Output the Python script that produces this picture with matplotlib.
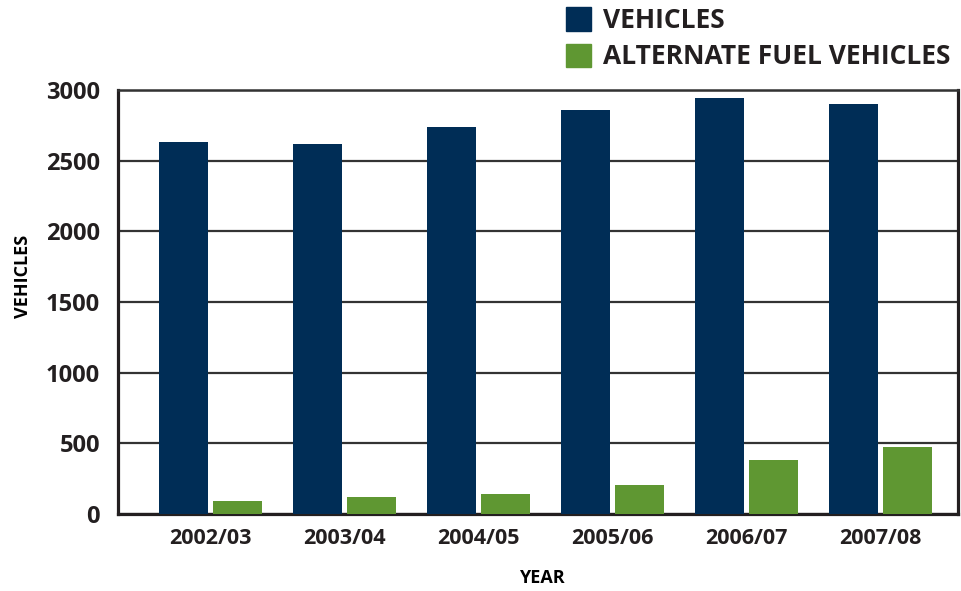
import numpy as np
import matplotlib.pyplot as plt
from matplotlib.patches import Patch

# Fleet size by financial year
years = ["2002/03", "2003/04", "2004/05", "2005/06", "2006/07", "2007/08"]
vehicles = [2630, 2617, 2737, 2857, 2942, 2900]
alt_fuel = [93, 120, 142, 205, 382, 474]

NAVY = "#002d56"
GREEN = "#5f9732"
INK = "#231f20"

plt.rcParams["font.family"] = ["Open Sans", "DejaVu Sans"]

fig = plt.figure(figsize=(9.61, 5.91), dpi=100)
ax = fig.add_axes([118 / 961, 1 - 514 / 591, 840 / 961, 424 / 591])

x = np.arange(len(years))
w = 0.366
ax.bar(x - 0.2015, vehicles, w, color=NAVY, zorder=3, label="VEHICLES")
ax.bar(x + 0.2015, alt_fuel, w, color=GREEN, zorder=3, label="ALTERNATE FUEL VEHICLES")

ax.set_xlim(-0.69, 5.578)
ax.set_ylim(0, 3000)
ax.set_yticks(range(0, 3001, 500))
ax.set_xticks(x)
ax.set_xticklabels(years)

ax.yaxis.grid(True, color="#333333", linewidth=1.6, zorder=1)
ax.set_axisbelow(True)
for side in ["left", "bottom", "right"]:
    ax.spines[side].set_linewidth(2.3)
    ax.spines[side].set_color(INK)
ax.spines["top"].set_linewidth(1.8)
ax.spines["top"].set_color("#333333")

ax.tick_params(axis="y", length=0, pad=13, labelsize=17, labelcolor=INK)
ax.tick_params(axis="x", length=0, pad=10, labelsize=15.5, labelcolor=INK)
for lbl in ax.get_xticklabels() + ax.get_yticklabels():
    lbl.set_fontweight("bold")

fig.text(542 / 961, 1 - 578 / 591, "YEAR", ha="center", va="center",
         fontsize=13, fontweight="bold", color="black")
fig.text(23 / 961, 1 - 276 / 591, "VEHICLES", ha="center", va="center",
         rotation=90, fontsize=13, fontweight="bold", color="black")

handles = [Patch(color=NAVY), Patch(color=GREEN)]
leg = fig.legend(handles, ["VEHICLES", "ALTERNATE FUEL VEHICLES"],
                 loc="upper left", bbox_to_anchor=(566 / 961, 1 - 7 / 591),
                 frameon=False, handlelength=0.95, handleheight=1.0,
                 prop={"size": 19, "weight": "bold"},
                 handletextpad=0.45, labelspacing=0.36, borderpad=0, borderaxespad=0)
for t in leg.get_texts():
    t.set_color(INK)

fig.savefig("out.png", dpi=100)
